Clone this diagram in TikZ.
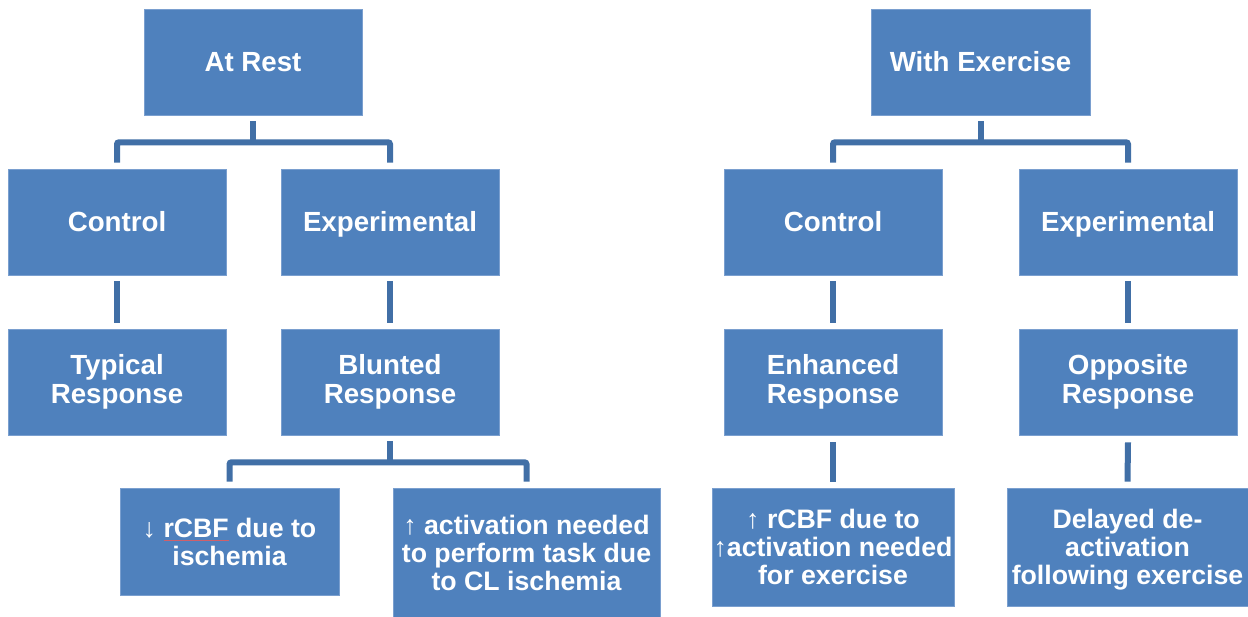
\documentclass[tikz,border=0pt]{standalone}
\usepackage{fontspec}
\setmainfont{Liberation Sans}
\definecolor{boxblue}{HTML}{4F81BD}
\definecolor{boxedge}{HTML}{7A9FCF}
\definecolor{linkblue}{HTML}{416FA6}
\definecolor{spellred}{HTML}{D0606A}
\newcommand\spellmark[1]{\setbox0\hbox{#1}\rlap{\color{spellred}\rule[-4pt]{\wd0}{1.1pt}}#1}
\tikzset{
  box/.style={fill=boxblue, draw=boxedge, line width=0.6pt, text=white,
    font=\fontsize{27.7}{28.5}\selectfont\bfseries, align=center,
    inner sep=0pt, anchor=center},
  oneline/.style={box, text height=19.8pt, text depth=0pt},
  lowbox/.style={box, font=\fontsize{26.7}{28}\selectfont\bfseries},
  conn/.style={draw=linkblue, line width=6pt, rounded corners=2pt, line cap=butt}
}
\begin{document}
\begin{tikzpicture}[x=1pt,y=-1pt]
\useasboundingbox (0,0) rectangle (1248,617);
% top
\node[oneline, minimum width=218pt, minimum height=106pt] (rest) at (253,62) {At Rest};
\node[oneline, minimum width=219pt, minimum height=106pt] (exer) at (980.5,62) {With Exercise};
% level 2
\node[oneline, minimum width=218pt, minimum height=106pt] (c1) at (117,222) {Control};
\node[oneline, minimum width=218pt, minimum height=106pt] (e1) at (390,222) {Experimental};
\node[oneline, minimum width=218pt, minimum height=106pt] (c2) at (833,222) {Control};
\node[oneline, minimum width=218pt, minimum height=106pt] (e2) at (1128,222) {Experimental};
% level 3
\node[box, minimum width=218pt, minimum height=106pt] (typ) at (117,382) {Typical\\Response};
\node[box, minimum width=218pt, minimum height=106pt] (blu) at (390,382) {Blunted\\Response};
\node[box, minimum width=218pt, minimum height=106pt] (enh) at (833,382) {Enhanced\\Response};
\node[box, minimum width=218pt, minimum height=106pt] (opp) at (1128,382) {Opposite\\Response};
% level 4
\node[lowbox, minimum width=219pt, minimum height=107pt] (dn) at (229.5,541.5)
  {\mdseries↓\bfseries{} \spellmark{rCBF} due to\\ischemia};
\node[lowbox, minimum width=267pt, minimum height=130pt] (up) at (526.5,553)
  {\mdseries↑\bfseries{} activation needed\\to perform task due\\to CL ischemia};
\node[lowbox, minimum width=242pt, minimum height=118pt] (rcbf) at (833,547)
  {\mdseries↑\bfseries{} rCBF due to\\\mdseries↑\bfseries activation needed\\for exercise};
\node[lowbox, minimum width=241pt, minimum height=118pt] (del) at (1127.5,547)
  {Delayed de-\\activation\\\smash{following exercise}};
% connectors
\draw[conn] ([yshift=-6pt]rest.south) -- ([yshift=-27pt]rest.south);
\draw[conn] ([yshift=6pt]c1.north) |- ([yshift=-27pt]rest.south) -| ([yshift=6pt]e1.north);
\draw[conn] ([yshift=-6pt]exer.south) -- ([yshift=-27pt]exer.south);
\draw[conn] ([yshift=6pt]c2.north) |- ([yshift=-27pt]exer.south) -| ([yshift=6pt]e2.north);
\draw[conn] ([yshift=-6pt]c1.south) -- ([yshift=6pt]typ.north);
\draw[conn] ([yshift=-6pt]e1.south) -- ([yshift=6pt]blu.north);
\draw[conn] ([yshift=-6pt]c2.south) -- ([yshift=6pt]enh.north);
\draw[conn] ([yshift=-6pt]e2.south) -- ([yshift=6pt]opp.north);
\draw[conn] ([yshift=-6pt]blu.south) -- ([yshift=-27pt]blu.south);
\draw[conn] ([yshift=6pt]dn.north) |- ([yshift=-27pt]blu.south) -| ([yshift=6pt]up.north);
\draw[conn] ([yshift=-7pt]enh.south) -- ([yshift=6pt]rcbf.north);
\draw[conn] ([yshift=-7pt]opp.south) -- ([yshift=6pt]del.north);
\end{tikzpicture}
\end{document}
